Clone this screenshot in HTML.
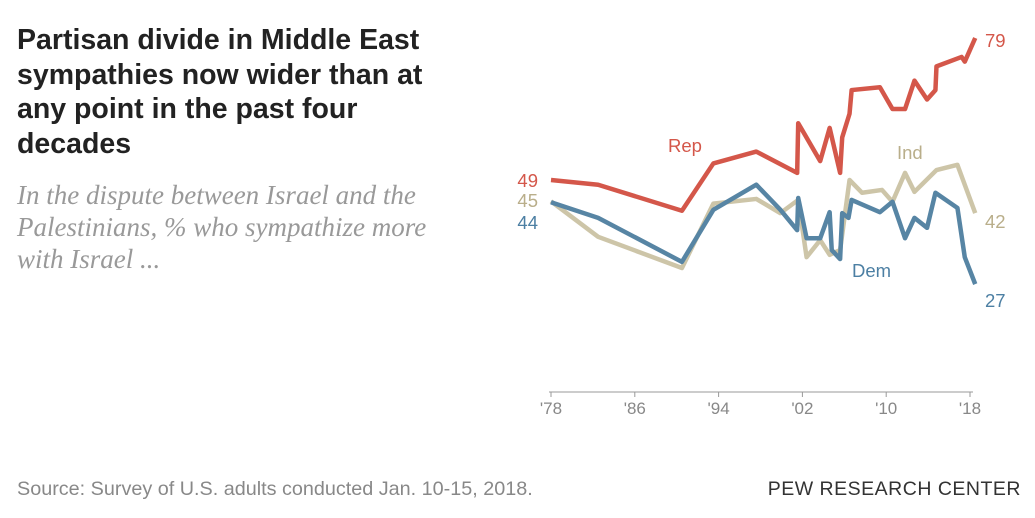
<!DOCTYPE html>
<html><head><meta charset="utf-8"><style>
body{margin:0;width:1035px;height:518px;background:#fff;overflow:hidden;position:relative;font-family:"Liberation Sans",sans-serif}
.t{position:absolute;left:17px;top:23px;font-size:28.5px;font-weight:bold;line-height:34.5px;color:#222;width:420px}
.s{position:absolute;left:17px;top:179px;font-family:"Liberation Serif",serif;font-style:italic;font-size:27px;line-height:32px;color:#999;width:430px}
.src{position:absolute;left:17px;top:478px;font-size:19.8px;color:#888}
.pew{position:absolute;right:14px;top:478px;font-size:19.5px;color:#333;letter-spacing:0.5px}
svg{position:absolute;left:0;top:0}
</style></head><body>
<div class="t">Partisan divide in Middle East sympathies now wider than at any point in the past four decades</div>
<div class="s">In the dispute between Israel and the Palestinians, % who sympathize more with Israel ...</div>
<div class="src">Source: Survey of U.S. adults conducted Jan. 10-15, 2018.</div>
<div class="pew">PEW RESEARCH CENTER</div>
<svg id="c" width="1035" height="518"></svg>
<script>
const tickYears=[1978,1986,1994,2002,2010,2018];
const tickLabels=["'78","'86","'94","'02","'10","'18"];
const repYears=[1978,1982.5,1990.5,1993.5,1997.6,2001.5,2001.6,2003.7,2004.6,2005.6,2005.8,2006.5,2006.7,2009.4,2010.6,2011.8,2012.7,2013.9,2014.7,2014.8,2017.2,2017.5,2018.5];
const repVals=[49,48,42.5,52.5,55,50.5,61,53,60,50.5,58,63,68,68.6,64,64,70,66,68,73,75,74,79];
const demYears=[1978,1982.5,1990.5,1993.5,1997.6,1999.9,2001.5,2001.6,2002.4,2003.7,2004.6,2004.8,2005.6,2005.8,2006.4,2006.7,2009.4,2010.6,2011.8,2012.7,2013.9,2014.7,2016.8,2017.5,2018.5];
const demVals=[44.3,41,31.7,42.7,48,42.7,38.4,45.2,36.7,36.7,42.2,34.2,32.3,42,41,44.8,42.2,44.4,36.7,41,38.9,46.3,43.1,32.7,27];
const indYears=[1978,1982.5,1990.5,1993.5,1997.6,1999.9,2001.6,2002.4,2003.7,2004.6,2005.6,2006.5,2007.7,2009.6,2010.6,2011.8,2012.7,2014.8,2016.8,2018.5];
const indVals=[44.5,37,30.4,44,45,42,44.8,32.7,36.3,33.2,34.2,49,46.3,46.9,44.4,50.5,46.5,51.1,52.2,42];
const x=y=>551+(y-1978)*10.475;
const yv=v=>180-(v-49)*4.733;
const svg=document.getElementById('c');const NS='http://www.w3.org/2000/svg';
function mk(t,a){const e=document.createElementNS(NS,t);for(const k in a)e.setAttribute(k,a[k]);svg.appendChild(e);return e;}
const ax=mk('line',{x1:549,x2:973,y1:392,y2:392,stroke:'#999','stroke-width':1});


tickYears.forEach((ty,i)=>{
 const l=mk('line',{x1:x(ty),x2:x(ty),y1:392,y2:397,stroke:'#999'});
 
 
 const t=mk('text',{x:x(ty),y:414,'text-anchor':'middle','font-size':17,fill:'#888','font-family':'Liberation Sans, sans-serif'});
 t.textContent=tickLabels[i];
 
 
});
function line(ys,vs,col,name){
 const p=mk('polyline',{points:ys.map((yy,i)=>x(yy)+','+yv(vs[i])).join(' '),fill:'none',stroke:col,'stroke-width':4.5,'stroke-linejoin':'round'});
 
 
}
line(indYears,indVals,'#cdc5a8','ind-line');
line(demYears,demVals,'#5785a4','dem-line');
line(repYears,repVals,'#d4574a','rep-line');
function lab(tx,xx,yy,col,name,anc){
 const t=mk('text',{x:xx,y:yy,'font-size':18.5,fill:col,'text-anchor':anc||'start','font-family':'Liberation Sans, sans-serif'});
 t.textContent=tx;
 
 
}
lab(String(repVals[0]),538,187,'#d4574a','rep-start-label','end');
lab(String(Math.round(indVals[0])),538,207,'#b9ae8a','ind-start-label','end');
lab(String(Math.round(demVals[0])),538,229,'#4c7fa3','dem-start-label','end');
lab(String(repVals[repVals.length-1]),985,47,'#d4574a','rep-end-label');
lab(String(indVals[indVals.length-1]),985,228,'#b9ae8a','ind-end-label');
lab(String(demVals[demVals.length-1]),985,307,'#4c7fa3','dem-end-label');
lab('Rep',668,152,'#d4574a','rep-series-label');
lab('Ind',897,159,'#b9ae8a','ind-series-label');
lab('Dem',852,277,'#4c7fa3','dem-series-label');
</script>
</body></html>
